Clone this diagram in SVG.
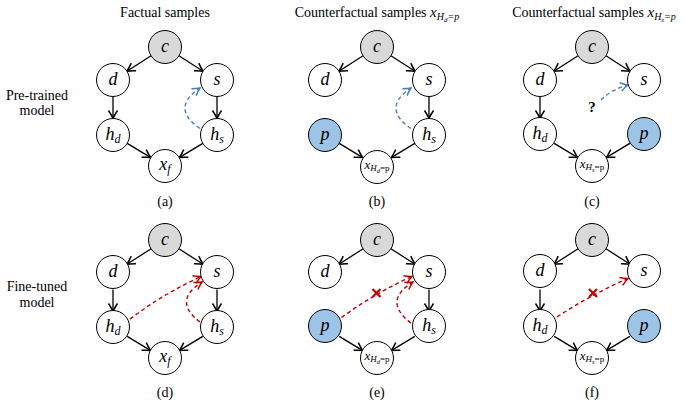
<svg xmlns="http://www.w3.org/2000/svg" width="685" height="404" viewBox="0 0 685 404">
<style>
.bg{fill:#ffffff}
.node{stroke:#000;stroke-width:1;fill:#fff}
.gray{fill:#d9d9d9}
.blue{fill:#9dc3e6}
.lab{font-family:"Liberation Serif","Times New Roman",serif;font-style:italic;font-size:18px;text-anchor:middle}
.small{font-family:"Liberation Serif","Times New Roman",serif;font-style:italic;font-size:13px;text-anchor:middle}
.txt{font-family:"Liberation Serif","Times New Roman",serif;font-size:14px;text-anchor:middle}
.arr{stroke:#000;stroke-width:1.3;fill:none;marker-end:url(#ab)}
.bd{stroke:#4a7ebb;stroke-width:1.4;fill:none;stroke-dasharray:4 3;marker-end:url(#abl)}
.rd{stroke:#c00000;stroke-width:1.4;fill:none;stroke-dasharray:4 3;marker-end:url(#ar)}
.x{stroke:#c00000;stroke-width:2.2;fill:none}
</style>
<defs>
<marker id="ab" viewBox="-9 -6 10 12" refX="0" refY="0" markerWidth="10" markerHeight="12" markerUnits="userSpaceOnUse" orient="auto">
<path d="M-8,-4.5 Q-3,-1.2 0,0 Q-3,1.2 -8,4.5" fill="none" stroke="#000" stroke-width="1.5"/>
</marker>
<marker id="abl" viewBox="-9 -6 10 12" refX="0" refY="0" markerWidth="10" markerHeight="12" markerUnits="userSpaceOnUse" orient="auto">
<path d="M-7.5,-4.2 Q-3,-1.2 0,0 Q-3,1.2 -7.5,4.2" fill="none" stroke="#4a7ebb" stroke-width="1.5"/>
</marker>
<marker id="ar" viewBox="-9 -6 10 12" refX="0" refY="0" markerWidth="10" markerHeight="12" markerUnits="userSpaceOnUse" orient="auto">
<path d="M-7.5,-4.2 Q-3,-1.2 0,0 Q-3,1.2 -7.5,4.2" fill="none" stroke="#c00000" stroke-width="1.5"/>
</marker>
</defs>
<rect class="bg" x="0" y="0" width="685" height="404"/>

<!-- row labels and titles -->
<g id="labels">
<text class="txt" x="37" y="100">Pre-trained</text>
<text class="txt" x="37" y="115">model</text>
<text class="txt" x="37" y="291">Fine-tuned</text>
<text class="txt" x="37" y="307">model</text>
<text class="txt" x="165" y="17">Factual samples</text>
<text class="txt" x="377" y="17">Counterfactual samples <tspan font-style="italic" font-size="15">x</tspan><tspan font-style="italic" font-size="10" dy="3">H</tspan><tspan font-style="italic" font-size="7" dy="2">d</tspan><tspan font-size="10" font-style="italic" dy="-2">=p</tspan></text>
<text class="txt" x="594" y="17">Counterfactual samples <tspan font-style="italic" font-size="15">x</tspan><tspan font-style="italic" font-size="10" dy="3">H</tspan><tspan font-style="italic" font-size="7" dy="2">s</tspan><tspan font-size="10" font-style="italic" dy="-2">=p</tspan></text>
<text class="txt" x="165" y="206">(a)</text>
<text class="txt" x="377" y="206">(b)</text>
<text class="txt" x="592" y="206">(c)</text>
<text class="txt" x="165" y="397">(d)</text>
<text class="txt" x="377" y="397">(e)</text>
<text class="txt" x="592" y="397">(f)</text>
</g>

<!-- Panel (a) -->
<g id="panel-a">
<g id="a-connectors">
<path class="arr" d="M151.1,55.8 L126.9,71.2"/>
<path class="arr" d="M178.9,55.8 L203.1,71.2"/>
<path class="arr" d="M113,96.5 L113,118.5"/>
<path class="arr" d="M217,96.5 L217,118.5"/>
<path class="arr" d="M127.2,143.4 L150.8,157.6"/>
<path class="arr" d="M202.8,143.4 L179.2,157.6"/>
<path class="bd" d="M200,128.5 Q170,108 200,88"/>
</g>
<g id="a-c"><circle class="node gray" cx="165" cy="47" r="16.5"/><text class="lab" x="165" y="52">c</text></g>
<g id="a-d"><circle class="node" cx="113" cy="80" r="16.5"/><text class="lab" x="113" y="85">d</text></g>
<g id="a-s"><circle class="node" cx="217" cy="80" r="16.5"/><text class="lab" x="217" y="85">s</text></g>
<g id="a-hd"><circle class="node" cx="113" cy="135" r="16.5"/><text class="lab" x="113" y="140">h<tspan font-size="12" dy="3">d</tspan></text></g>
<g id="a-hs"><circle class="node" cx="217" cy="135" r="16.5"/><text class="lab" x="217" y="140">h<tspan font-size="12" dy="3">s</tspan></text></g>
<g id="a-xf"><circle class="node" cx="165" cy="166" r="16.5"/><text class="lab" x="165" y="170">x<tspan font-size="12" dy="3">f</tspan></text></g>
</g>

<!-- Panel (b) -->
<g id="panel-b" transform="translate(212,0)">
<g id="b-connectors">
<path class="arr" d="M151.1,55.8 L126.9,71.2"/>
<path class="arr" d="M178.9,55.8 L203.1,71.2"/>
<path class="arr" d="M217,96.5 L217,118.5"/>
<path class="arr" d="M127.2,143.4 L150.8,157.6"/>
<path class="arr" d="M202.8,143.4 L179.2,157.6"/>
<path class="bd" d="M199,128.5 Q169,108 199,88"/>
</g>
<g id="b-c"><circle class="node gray" cx="165" cy="47" r="16.5"/><text class="lab" x="165" y="52">c</text></g>
<g id="b-d"><circle class="node" cx="113" cy="80" r="16.5"/><text class="lab" x="113" y="85">d</text></g>
<g id="b-s"><circle class="node" cx="217" cy="80" r="16.5"/><text class="lab" x="217" y="85">s</text></g>
<g id="b-p"><circle class="node blue" cx="113" cy="135" r="16.5"/><text class="lab" x="113" y="140">p</text></g>
<g id="b-hs"><circle class="node" cx="217" cy="135" r="16.5"/><text class="lab" x="217" y="140">h<tspan font-size="12" dy="3">s</tspan></text></g>
<g id="b-x"><circle class="node" cx="165" cy="167" r="16.5"/><text class="small" x="165" y="169">x<tspan font-size="9" dy="2">H</tspan><tspan font-size="6.5" dy="1.5">d</tspan><tspan font-size="9" font-style="normal" dy="-1.5">=p</tspan></text></g>
</g>

<!-- Panel (c) -->
<g id="panel-c" transform="translate(427,0)">
<g id="c-connectors">
<path class="arr" d="M151.1,55.8 L126.9,71.2"/>
<path class="arr" d="M178.9,55.8 L203.1,71.2"/>
<path class="arr" d="M113,96.5 L113,118.5"/>
<path class="arr" d="M127.2,143.4 L150.8,157.6"/>
<path class="arr" d="M202.8,143.4 L179.2,157.6"/>
<path class="bd" d="M174,100 Q185,89 201,85"/>
</g>
<text id="c-q" x="165" y="112" font-family="Liberation Serif, serif" font-weight="bold" font-size="15" text-anchor="middle">?</text>
<g id="c-c"><circle class="node gray" cx="165" cy="47" r="16.5"/><text class="lab" x="165" y="52">c</text></g>
<g id="c-d"><circle class="node" cx="113" cy="80" r="16.5"/><text class="lab" x="113" y="85">d</text></g>
<g id="c-s"><circle class="node" cx="217" cy="80" r="16.5"/><text class="lab" x="217" y="85">s</text></g>
<g id="c-hd"><circle class="node" cx="113" cy="134" r="16.5"/><text class="lab" x="113" y="139">h<tspan font-size="12" dy="3">d</tspan></text></g>
<g id="c-p"><circle class="node blue" cx="217" cy="134" r="16.5"/><text class="lab" x="217" y="139">p</text></g>
<g id="c-x"><circle class="node" cx="165" cy="166" r="16.5"/><text class="small" x="165" y="168">x<tspan font-size="9" dy="2">H</tspan><tspan font-size="6.5" dy="1.5">s</tspan><tspan font-size="9" font-style="normal" dy="-1.5">=p</tspan></text></g>
</g>

<!-- Panel (d) -->
<g id="panel-d" transform="translate(0,193)">
<g id="d-connectors">
<path class="arr" d="M151.1,55.8 L126.9,71.2"/>
<path class="arr" d="M178.9,55.8 L203.1,71.2"/>
<path class="arr" d="M113,96.5 L113,118.5"/>
<path class="arr" d="M217,96.5 L217,118.5"/>
<path class="arr" d="M127.2,143.4 L150.8,157.6"/>
<path class="arr" d="M202.8,143.4 L179.2,157.6"/>
<path class="rd" d="M130,126 Q163,101 201,83.5"/>
<path class="rd" d="M200,129 Q172,108 202,89"/>
</g>
<g id="d-c"><circle class="node gray" cx="165" cy="47" r="16.5"/><text class="lab" x="165" y="52">c</text></g>
<g id="d-d"><circle class="node" cx="113" cy="79" r="16.5"/><text class="lab" x="113" y="84">d</text></g>
<g id="d-s"><circle class="node" cx="217" cy="79" r="16.5"/><text class="lab" x="217" y="84">s</text></g>
<g id="d-hd"><circle class="node" cx="113" cy="134" r="16.5"/><text class="lab" x="113" y="139">h<tspan font-size="12" dy="3">d</tspan></text></g>
<g id="d-hs"><circle class="node" cx="217" cy="134" r="16.5"/><text class="lab" x="217" y="139">h<tspan font-size="12" dy="3">s</tspan></text></g>
<g id="d-xf"><circle class="node" cx="165" cy="165" r="16.5"/><text class="lab" x="165" y="169">x<tspan font-size="12" dy="3">f</tspan></text></g>
</g>

<!-- Panel (e) -->
<g id="panel-e" transform="translate(212,193)">
<g id="e-connectors">
<path class="arr" d="M151.1,55.8 L126.9,71.2"/>
<path class="arr" d="M178.9,55.8 L203.1,71.2"/>
<path class="arr" d="M217,96.5 L217,118.5"/>
<path class="arr" d="M127.2,143.4 L150.8,157.6"/>
<path class="arr" d="M202.8,143.4 L179.2,157.6"/>
<path class="rd" d="M129.5,124.5 Q163,100 200,83.5"/>
<path class="rd" d="M199,130 Q170,108 201,89"/>
<path class="x" d="M160.5,96 L168.5,104 M168.5,96 L160.5,104"/>
</g>
<g id="e-c"><circle class="node gray" cx="165" cy="47" r="16.5"/><text class="lab" x="165" y="52">c</text></g>
<g id="e-d"><circle class="node" cx="113" cy="79" r="16.5"/><text class="lab" x="113" y="84">d</text></g>
<g id="e-s"><circle class="node" cx="217" cy="79" r="16.5"/><text class="lab" x="217" y="84">s</text></g>
<g id="e-p"><circle class="node blue" cx="113" cy="133" r="16.5"/><text class="lab" x="113" y="138">p</text></g>
<g id="e-hs"><circle class="node" cx="217" cy="133" r="16.5"/><text class="lab" x="217" y="138">h<tspan font-size="12" dy="3">s</tspan></text></g>
<g id="e-x"><circle class="node" cx="165" cy="165" r="16.5"/><text class="small" x="165" y="167">x<tspan font-size="9" dy="2">H</tspan><tspan font-size="6.5" dy="1.5">d</tspan><tspan font-size="9" font-style="normal" dy="-1.5">=p</tspan></text></g>
</g>

<!-- Panel (f) -->
<g id="panel-f" transform="translate(427,193)">
<g id="f-connectors">
<path class="arr" d="M151.1,55.8 L126.9,71.2"/>
<path class="arr" d="M178.9,55.8 L203.1,71.2"/>
<path class="arr" d="M113,96.5 L113,118.5"/>
<path class="arr" d="M127.2,143.4 L150.8,157.6"/>
<path class="arr" d="M202.8,143.4 L179.2,157.6"/>
<path class="rd" d="M130,124 Q165,101 201,85.5"/>
<path class="x" d="M162,96 L170,104 M170,96 L162,104"/>
</g>
<g id="f-c"><circle class="node gray" cx="165" cy="47" r="16.5"/><text class="lab" x="165" y="52">c</text></g>
<g id="f-d"><circle class="node" cx="113" cy="78" r="16.5"/><text class="lab" x="113" y="83">d</text></g>
<g id="f-s"><circle class="node" cx="217" cy="78" r="16.5"/><text class="lab" x="217" y="83">s</text></g>
<g id="f-hd"><circle class="node" cx="113" cy="133" r="16.5"/><text class="lab" x="113" y="138">h<tspan font-size="12" dy="3">d</tspan></text></g>
<g id="f-p"><circle class="node blue" cx="217" cy="133" r="16.5"/><text class="lab" x="217" y="138">p</text></g>
<g id="f-x"><circle class="node" cx="165" cy="165" r="16.5"/><text class="small" x="165" y="167">x<tspan font-size="9" dy="2">H</tspan><tspan font-size="6.5" dy="1.5">s</tspan><tspan font-size="9" font-style="normal" dy="-1.5">=p</tspan></text></g>
</g>
</svg>
